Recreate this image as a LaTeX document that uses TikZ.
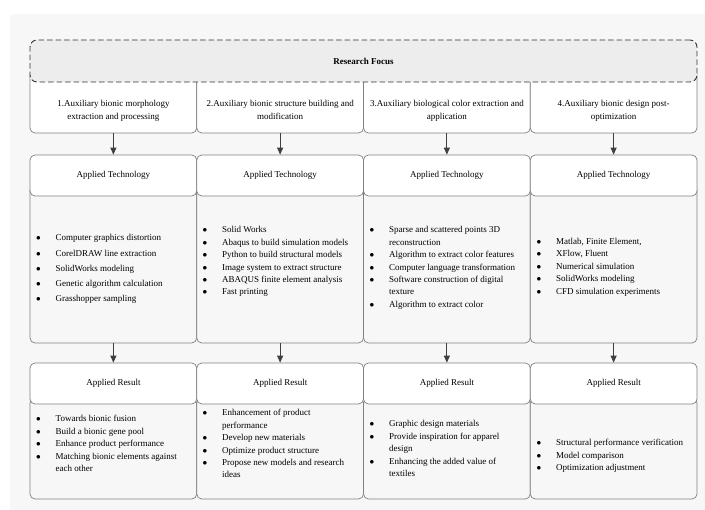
\documentclass[tikz,border=0pt]{standalone}
\usepackage{fontspec}
\setmainfont{Liberation Serif}
\usetikzlibrary{arrows.meta}

\newcommand{\litem}[1]{$\bullet$ & #1\\}
\newcommand{\lmore}[1]{& #1\\}
\newcommand{\blist}[1]{\begin{tabular}[t]{@{}p{19.5pt}@{}l@{}}#1\end{tabular}}

\begin{document}
\begin{tikzpicture}[x=1pt, y=-1pt,
    box/.style={draw=black!50, line width=0.7pt, rounded corners=5pt, fill=white, minimum width=166.75pt, inner sep=0pt, font=\fontsize{9}{12.4}\selectfont, text=black},
    listbox/.style={box, fill=black!3},
    focus/.style={draw=black!80, line width=0.9pt, dash pattern=on 5.5pt off 3pt, rounded corners=7pt, fill=black!7, minimum width=667pt, minimum height=42pt, font=\bfseries\fontsize{9}{11}\selectfont},
    txt/.style={inner sep=0pt, anchor=base, font=\fontsize{9}{13}\selectfont, text=black},
    lst/.style={inner sep=0pt, anchor=base west, font=\fontsize{9}{12.4}\selectfont, text=black},
    arr/.style={-{Triangle[length=7pt, width=6pt]}, draw=black!75, line width=0.9pt}
]
\useasboundingbox (0,0) rectangle (705,510);
\fill[black!3, rounded corners=3pt] (10,14) rectangle (707,512);

\node[box, minimum height=63pt] (hb1) at (113.375,101.5) {};
\node[box, minimum height=63pt] (hb2) at (280.125,101.5) {};
\node[box, minimum height=63pt] (hb3) at (446.875,101.5) {};
\node[box, minimum height=63pt] (hb4) at (613.625,101.5) {};
\node[focus] (focus) at (363.5,61) {Research Focus};
\node[txt] (ht1) at (113.375,107) {\begin{tabular}[t]{@{}c@{}}1.Auxiliary bionic morphology\\extraction and processing\end{tabular}};
\node[txt] (ht2) at (280.125,107) {\begin{tabular}[t]{@{}c@{}}2.Auxiliary bionic structure building and\\modification\end{tabular}};
\node[txt] (ht3) at (446.875,107) {\begin{tabular}[t]{@{}c@{}}3.Auxiliary biological color extraction and\\application\end{tabular}};
\node[txt] (ht4) at (613.625,107) {\begin{tabular}[t]{@{}c@{}}4.Auxiliary bionic design post-\\optimization\end{tabular}};

\node[listbox, minimum height=158pt] (tl1) at (113.375,264) {};
\node[listbox, minimum height=158pt] (tl2) at (280.125,264) {};
\node[listbox, minimum height=158pt] (tl3) at (446.875,264) {};
\node[listbox, minimum height=158pt] (tl4) at (613.625,264) {};
\node[box, minimum height=41pt] (th1) at (113.375,175.5) {Applied Technology};
\node[box, minimum height=41pt] (th2) at (280.125,175.5) {Applied Technology};
\node[box, minimum height=41pt] (th3) at (446.875,175.5) {Applied Technology};
\node[box, minimum height=41pt] (th4) at (613.625,175.5) {Applied Technology};

\node[listbox, minimum height=101pt] (rl1) at (113.375,448.5) {};
\node[listbox, minimum height=101pt] (rl2) at (280.125,448.5) {};
\node[listbox, minimum height=101pt] (rl3) at (446.875,448.5) {};
\node[listbox, minimum height=101pt] (rl4) at (613.625,448.5) {};
\node[box, minimum height=41pt] (rh1) at (113.375,383.5) {Applied Result};
\node[box, minimum height=41pt] (rh2) at (280.125,383.5) {Applied Result};
\node[box, minimum height=41pt] (rh3) at (446.875,383.5) {Applied Result};
\node[box, minimum height=41pt] (rh4) at (613.625,383.5) {Applied Result};

\node[lst, font=\fontsize{9}{15.2}\selectfont] (tt1) at (36,241) {\blist{
  \litem{Computer graphics distortion}
  \litem{CorelDRAW line extraction}
  \litem{SolidWorks modeling}
  \litem{Genetic algorithm calculation}
  \litem{Grasshopper sampling}}};
\node[lst] (tt2) at (202.5,233) {\blist{
  \litem{Solid Works}
  \litem{Abaqus to build simulation models}
  \litem{Python to build structural models}
  \litem{Image system to extract structure}
  \litem{ABAQUS finite element analysis}
  \litem{Fast printing}}};
\node[lst] (tt3) at (369.5,233) {\blist{
  \litem{Sparse and scattered points 3D}
  \lmore{reconstruction}
  \litem{Algorithm to extract color features}
  \litem{Computer language transformation}
  \litem{Software construction of digital}
  \lmore{texture}
  \litem{Algorithm to extract color}}};
\node[lst] (tt4) at (536.5,244.5) {\blist{
  \litem{Matlab, Finite Element,}
  \litem{XFlow, Fluent}
  \litem{Numerical simulation}
  \litem{SolidWorks modeling}
  \litem{CFD simulation experiments}}};

\node[lst] (rt1) at (36,422) {\blist{
  \litem{Towards bionic fusion}
  \litem{Build a bionic gene pool}
  \litem{Enhance product performance}
  \litem{Matching bionic elements against}
  \lmore{each other}}};
\node[lst] (rt2) at (202.5,416) {\blist{
  \litem{Enhancement of product}
  \lmore{performance}
  \litem{Develop new materials}
  \litem{Optimize product structure}
  \litem{Propose new models and research}
  \lmore{ideas}}};
\node[lst] (rt3) at (369.5,427) {\blist{
  \litem{Graphic design materials}
  \litem{Provide inspiration for apparel}
  \lmore{design}
  \litem{Enhancing the added value of}
  \lmore{textiles}}};
\node[lst] (rt4) at (536.5,446) {\blist{
  \litem{Structural performance verification}
  \litem{Model comparison}
  \litem{Optimization adjustment}}};

\draw[arr] (hb1) -- (th1);
\draw[arr] (hb2) -- (th2);
\draw[arr] (hb3) -- (th3);
\draw[arr] (hb4) -- (th4);
\draw[arr] (tl1) -- (rh1);
\draw[arr] (tl2) -- (rh2);
\draw[arr] (tl3) -- (rh3);
\draw[arr] (tl4) -- (rh4);
\end{tikzpicture}
\end{document}
